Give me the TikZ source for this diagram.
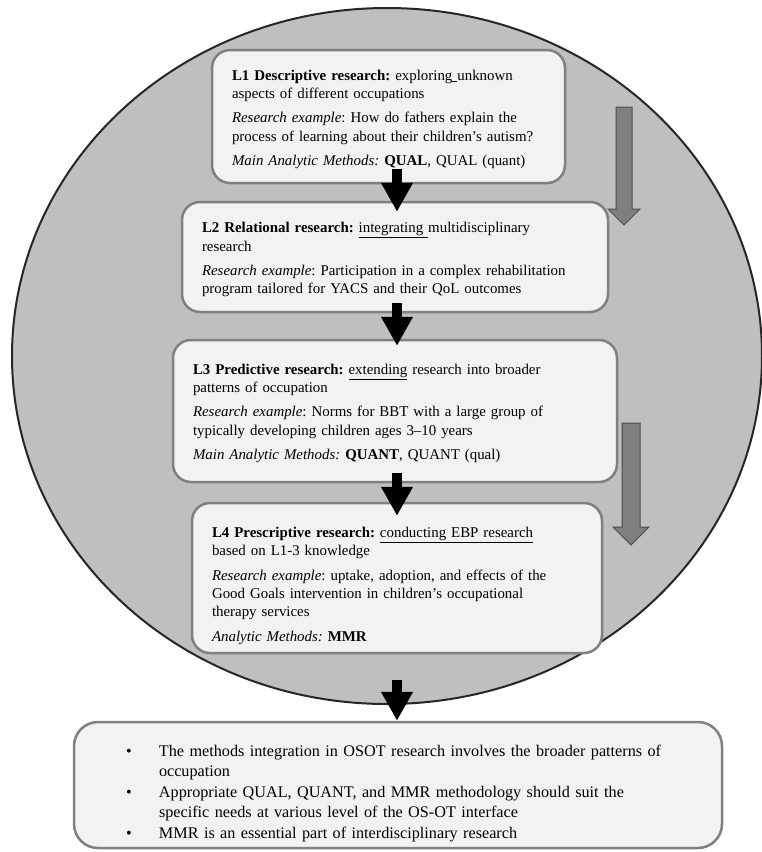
\documentclass[tikz,border=0pt]{standalone}
\usepackage{fontspec}
\setmainfont{Liberation Serif}
\usetikzlibrary{arrows.meta}
\usetikzlibrary{calc}
\definecolor{ring}{RGB}{191,191,191}
\definecolor{kasten}{RGB}{242,242,242}
\definecolor{rand}{RGB}{128,128,128}
\definecolor{pfeilgrau}{RGB}{127,127,127}
\newcommand{\punkt}{\hspace*{42pt}\makebox[33pt][l]{\textbullet}}
\newcommand{\weiter}{\hspace*{75pt}}
\frenchspacing
\tikzset{
    stufe/.style={draw=rand, line width=2.5pt, fill=kasten, rounded corners=18pt, align=left, inner xsep=20pt, font=\fontsize{14.9}{18.3}\selectfont},
    fazit/.style={draw=rand, line width=2.5pt, fill=kasten, rounded corners=24pt, align=left, inner xsep=10pt, text width=628pt, minimum width=648pt, minimum height=126pt, font=\fontsize{16.2}{20.5}\selectfont},
    schwarzpfeil/.style={line width=10pt, -{Triangle[width=30pt,length=29pt]}},
    graupfeil/.style={fill=pfeilgrau, draw=black!70, line width=1pt},
}

\begin{document}
\begin{tikzpicture}[x=1pt, y=-1pt]

    \useasboundingbox (0,0) rectangle (761,852);
    \draw[fill=ring, draw=black!85, line width=2pt] (387,356) ellipse [x radius=375, y radius=348];

    % die vier Stufen
    \node[stufe, minimum width=353pt, minimum height=133pt, text width=313pt] (l1) at (388.5,116.5) {\rule{0pt}{16pt}\textbf{L1 Descriptive research:} exploring\underline{\ }unknown\\ aspects of different occupations\\[6pt] \textit{Research example}: How do fathers explain the\\ process of learning about their children’s autism?\\[6pt] \textit{Main Analytic Methods:} \textbf{QUAL}, QUAL (quant)};
    \node[stufe, minimum width=426pt, minimum height=110pt, text width=386pt] (l2) at (395,257) {\rule{0pt}{16pt}\textbf{L2 Relational research:} \underline{integrating\ }multidisciplinary\\ research\\[6pt] \textit{Research example}: Participation in a complex rehabilitation\\ program tailored for YACS and their QoL outcomes};
    \node[stufe, minimum width=444pt, minimum height=142pt, text width=404pt] (l3) at (395,411) {\rule{0pt}{15pt}\textbf{L3 Predictive research:} \underline{extending} research into broader\\ patterns of occupation\\[6pt] \textit{Research example}: Norms for BBT with a large group of\\ typically developing children ages 3–10 years\\[6pt] \textit{Main Analytic Methods:} \textbf{QUANT}, QUANT (qual)};
    \node[stufe, minimum width=410pt, minimum height=150pt, text width=370pt] (l4) at (397,578) {\rule{0pt}{26pt}\textbf{L4 Prescriptive research:} \underline{conducting EBP research}\\ based on L1-3 knowledge\\[6pt] \textit{Research example}: uptake, adoption, and effects of the\\ Good Goals intervention in children’s occupational\\ therapy services\\[6pt] \textit{Analytic Methods:} \textbf{MMR}};

    \node[fazit] (sum) at (398,785) {\rule{0pt}{28pt}\punkt The methods integration in OSOT research involves the broader patterns of\\ \weiter occupation\\ \punkt Appropriate QUAL, QUANT, and MMR methodology should suit the\\ \weiter specific needs at various level of the OS-OT interface\\ \punkt MMR is an essential part of interdisciplinary research};

    % Pfeile
    \coordinate (achse) at (397,0);
    \draw[schwarzpfeil] ($(l1.south -| achse)+(0,-15)$) -- ($(l2.north -| achse)+(0,11)$);
    \draw[schwarzpfeil] ($(l2.south -| achse)+(0,-10)$) -- ($(l3.north -| achse)+(0,7)$);
    \draw[schwarzpfeil] ($(l3.south -| achse)+(0,-10)$) -- ($(l4.north -| achse)+(0,14)$);
    \draw[schwarzpfeil] ($(l4.south -| achse)+(0,26)$) -- (sum.north -| achse);

    \draw[graupfeil] (616,107) -- (632,107) -- (632,209) -- (640,209) -- (624,225) -- (608,209) -- (616,209) -- cycle;
    \draw[graupfeil] (622,423) -- (640,423) -- (640,527) -- (649,527) -- (631,545) -- (613,527) -- (622,527) -- cycle;

\end{tikzpicture}
\end{document}
